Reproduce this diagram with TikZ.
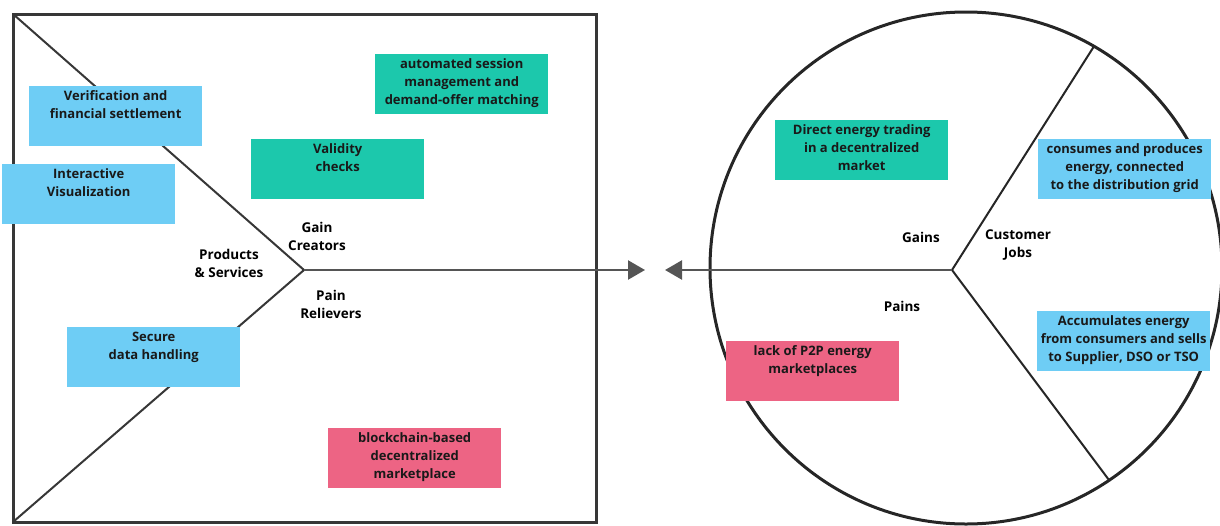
\documentclass[tikz,border=0pt]{standalone}
\usepackage{fontspec}
\setmainfont{Open Sans}
\usetikzlibrary{arrows.meta,positioning}

\definecolor{cardblue}{RGB}{110,205,245}
\definecolor{cardteal}{RGB}{28,200,172}
\definecolor{cardpink}{RGB}{237,100,132}
\definecolor{framegray}{RGB}{55,55,55}

% text of a card: top aligned in a fixed box
\newcommand{\cardtext}[1]{\parbox[c][51pt][t]{173pt}{\centering #1}}

\tikzset{
  card/.style={anchor=north west, inner xsep=0pt, inner ysep=4.5pt,
    font=\fontsize{13}{18}\selectfont\bfseries, text=black!90},
  bluecard/.style={card, fill=cardblue},
  tealcard/.style={card, fill=cardteal},
  pinkcard/.style={card, fill=cardpink},
  caption/.style={font=\fontsize{13.5}{18}\selectfont\bfseries, align=center},
  flow/.style={line width=2.4pt, framegray!85, -{Triangle[length=17pt,width=19pt]}}
}

\begin{document}
\begin{tikzpicture}[x=1pt,y=-1pt]

    \useasboundingbox (0,0) rectangle (1220,525);

    % Value map (rectangle)
    \node[draw=framegray, line width=3pt, outer sep=0pt, anchor=north west,
      minimum width=583pt, minimum height=508pt] (map) at (13,14) {};

    % Chevron of the value map
    \coordinate (vertex) at (304,270);
    \draw[framegray, line width=2pt] (map.north west) -- (vertex) -- (map.south west);

    % Customer profile (circle)
    \node[draw=black!85, line width=3pt, circle, outer sep=0pt,
      minimum size=512pt] (profile) at (966,268) {};

    % Split of the customer profile
    \coordinate (jobs) at (952,270);
    \draw[black!85, line width=2pt] (profile.60) -- (jobs) -- (profile.-56);

    % Fit arrows
    \coordinate (tipR) at (645,270);
    \coordinate (tipL) at (665,270);
    \draw[flow] (vertex) -- (tipR);
    \draw[flow] (jobs) -- (tipL);

    % Section names
    \node[caption] (gaincr) at (317,236) {Gain\\Creators};
    \node[caption] (prodserv) at (229,263) {Products\\\& Services};
    \node[caption] (painrel) at (331,304) {Pain\\Relievers};
    \node[caption] (gains) at (921,237) {Gains};
    \node[caption] (custjobs) at (1018,245) {Customer\\Jobs};
    \node[caption] (pains) at (902,306) {Pains};

    % Cards on the value map
    \node[bluecard] (verif) at (29,86) {\cardtext{Verification and\\financial settlement}};
    \node[bluecard] (visual) at (2,164) {\cardtext{Interactive\\Visualization}};
    \node[bluecard] (secure) at (67,327) {\cardtext{Secure\\data handling}};
    \node[tealcard] (validity) at (251,139) {\cardtext{Validity\\checks}};
    \node[tealcard] (session) at (375,54) {\cardtext{automated session\\management and\\demand-offer matching}};
    \node[pinkcard] (market) at (328,428) {\cardtext{blockchain-based\\decentralized\\marketplace}};

    % Cards on the customer profile
    \node[tealcard] (trading) at (775,120) {\cardtext{Direct energy trading\\in a decentralized\\market}};
    \node[bluecard] (prosumer) at (1038,139) {\cardtext{consumes and produces\\energy, connected\\to the distribution grid}};
    \node[bluecard] (aggreg) at (1037,311) {\cardtext{Accumulates energy\\from consumers and sells\\to Supplier, DSO or TSO}};
    \node[pinkcard] (lack) at (726,341) {\cardtext{lack of P2P energy\\marketplaces}};

\end{tikzpicture}
\end{document}
